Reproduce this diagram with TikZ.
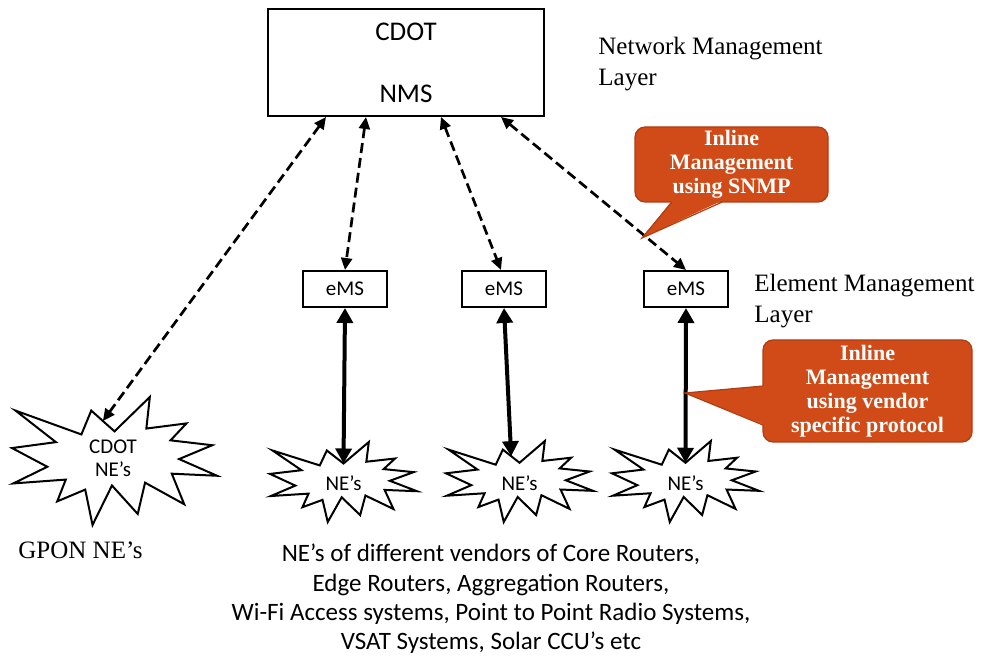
\documentclass[tikz,border=0pt]{standalone}
\usepackage{fontspec}
\setmainfont{Liberation Serif}
\setsansfont{Carlito}
\usepackage{tikz}
\usetikzlibrary{arrows.meta,calc}
\definecolor{calloutfill}{RGB}{209,75,24}
\definecolor{calloutline}{RGB}{178,60,16}

\begin{document}
\begin{tikzpicture}[
	x=0.5pt, y=-0.5pt,
	box/.style={draw, rectangle, line width=1pt, inner sep=0pt, align=center, font=\sffamily\fontsize{13.5}{15}\selectfont},
	smallbox/.style={draw, rectangle, line width=1pt, minimum width=42pt, minimum height=18pt, inner sep=0pt, font=\sffamily\fontsize{10.5}{12}\selectfont},
	netext/.style={inner sep=0pt, align=center, font=\sffamily\fontsize{10.5}{11.5}\selectfont},
	layer/.style={anchor=west, inner sep=0pt, align=left, font=\fontsize{12.5}{15.5}\selectfont},
	balloon/.style={rectangle, rounded corners=5pt, fill=calloutfill, draw=calloutline, line width=0.6pt, text=white, align=center, inner sep=0pt, font=\bfseries\fontsize{11}{12}\selectfont},
	starline/.style={draw, line width=1pt, line join=miter, fill=white},
	pics/explosion/.style 2 args={code={
		\begin{scope}[xscale=#1/216, yscale=#2/216]
			\draw[starline] (108,58) -- (145.22,0) -- (141.55,53.25) -- (183.8,44.57) -- (167.02,73.15)
				-- (210.97,81.37) -- (176.07,104.75) -- (216,132.9) -- (168.37,129.42) -- (181.45,180.95)
				-- (140.2,144.57) -- (132.47,197.37) -- (105.32,149.35) -- (84.85,216) -- (77.15,156.27)
				-- (47.62,176.17) -- (56.67,139.37) -- (1.35,145.87) -- (37.22,117.75) -- (0,86.15)
				-- (46.27,76.17) -- (3.7,22.95) -- (73.12,63.2) -- (83.52,22.95) -- cycle;
			\coordinate (-top) at (108,58);
			\coordinate (-edge) at (95.76,40.5);
		\end{scope}
	}},
	>={Triangle[length=6pt,width=5.5pt]}
	]
	
	\useasboundingbox (0,0) rectangle (983,656);
	
	%-----------------------
	% Customizable heights
	%-----------------------
	\def\hnms{62.5}  % Row 1: NMS
	\def\hems{289}   % Row 2: eMS boxes
	\def\hne{483}    % Row 3: NE stars
	
	%-----------------------
	% Row 1: NMS
	%-----------------------
	\node[box, minimum width=138pt, minimum height=53.5pt] (NMS) at (406,\hnms) {CDOT\\[16pt]NMS};
	\node[layer] (NML) at (598,64.5) {Network Management\\Layer};
	
	%-----------------------
	% Row 2: eMS boxes
	%-----------------------
	\node[smallbox] (EMS-1) at (345,\hems) {eMS};
	\node[smallbox] (EMS-2) at (504,\hems) {eMS};
	\node[smallbox] (EMS-3) at (686,\hems) {eMS};
	\node[layer] (EML) at (754,301.5) {Element Management\\Layer};
	
	%-----------------------
	% Row 3: NE stars
	%-----------------------
	\pic (CNE) at (12,397) {explosion={205}{128}};
	\pic (NE-1) at (270,442) {explosion={147}{80}};
	\pic (NE-2) at (446,441) {explosion={147}{81}};
	\pic (NE-3) at (612,441) {explosion={147}{81}};
	
	\node[netext] (CNE-t) at (113,458) {CDOT\\NE’s};
	\node[netext] (NE-1-t) at (343.5,\hne) {NE’s};
	\node[netext] (NE-2-t) at (519.5,\hne) {NE’s};
	\node[netext] (NE-3-t) at (685.5,\hne) {NE’s};
	
	\node[layer] (GPON) at (18,550) {GPON NE’s};
	\node[inner sep=0pt, align=center, font=\sffamily\fontsize{12.5}{14.65}\selectfont] (VEN) at (491,599)
		{NE’s of different vendors of Core Routers,\\Edge Routers, Aggregation Routers,\\Wi-Fi Access systems, Point to Point Radio Systems,\\VSAT Systems, Solar CCU’s etc};
	
	%-----------------------
	% Connections
	%-----------------------
	\tikzset{connect/.style={<->, dash pattern=on 5pt off 2.5pt, line width=1.35pt},
		solidlink/.style={<->, line width=2pt, >={Triangle[length=7.5pt,width=8pt]}}}
	
	% NMS <-> eMS (dashed)
	\draw[connect] ([xshift=-40pt]NMS.south) -- (CNE-edge);
	\draw[connect] ([xshift=-20pt]NMS.south) -- (EMS-1.north);
	\draw[connect] ([xshift=17.5pt]NMS.south) -- ([xshift=-1.5pt]EMS-2.north);
	\draw[connect] ([xshift=47.5pt]NMS.south) -- (EMS-3.north);
	
	% eMS <-> NE's (solid)
	\draw[solidlink] (EMS-1.south) -- (NE-1-top);
	\draw[solidlink] (EMS-2.south) -- (NE-2-edge);
	\draw[solidlink] (EMS-3.south) -- (NE-3-top);
	
	%-----------------------
	% Callouts
	%-----------------------
	\coordinate (SNMP-tip) at (642,238);
	\coordinate (VEND-tip) at (685,393);
	
	\node[balloon, minimum width=96.5pt, minimum height=37.5pt] (SNMP) at (731.5,164.5) {Inline\\Management\\using SNMP};
	\fill[calloutfill] ($(SNMP.south)+(-59.5,-2)$) -- (SNMP-tip) -- ($(SNMP.south)+(-9.5,-2)$) -- cycle;
	\draw[calloutline, line width=0.6pt] ($(SNMP.south)+(-59.5,-0.5)$) -- (SNMP-tip) -- ($(SNMP.south)+(-9.5,-0.5)$);
	
	\node[balloon, minimum width=104.5pt, minimum height=51pt] (VEND) at (867.5,391) {Inline\\Management\\using vendor\\specific protocol};
	\fill[calloutfill] ($(VEND.west)+(2,-5)$) -- (VEND-tip) -- ($(VEND.west)+(2,34)$) -- cycle;
	\draw[calloutline, line width=0.6pt] ($(VEND.west)+(0.5,-5)$) -- (VEND-tip) -- ($(VEND.west)+(0.5,34)$);
	
\end{tikzpicture}
\end{document}
